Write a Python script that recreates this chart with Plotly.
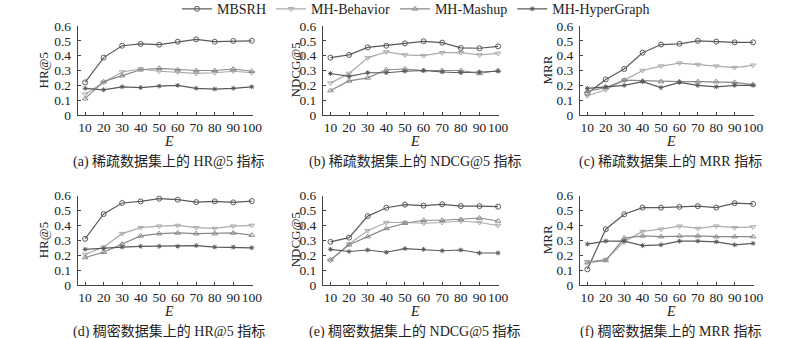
import plotly.graph_objects as go

E = [10, 20, 30, 40, 50, 60, 70, 80, 90, 100]
series_names = ["MBSRH", "MH-Behavior", "MH-Mashup", "MH-HyperGraph"]

# (a) sparse HR@5
a_mbsrh = [0.22, 0.387, 0.467, 0.479, 0.474, 0.494, 0.51, 0.494, 0.499, 0.50]
a_beh = [0.14, 0.22, 0.29, 0.31, 0.295, 0.29, 0.28, 0.285, 0.295, 0.285]
a_mash = [0.11, 0.225, 0.265, 0.305, 0.315, 0.305, 0.30, 0.30, 0.31, 0.295]
a_hyp = [0.18, 0.17, 0.19, 0.185, 0.195, 0.20, 0.18, 0.175, 0.18, 0.19]
# (b) sparse NDCG@5
b_mbsrh = [0.387, 0.405, 0.456, 0.467, 0.483, 0.497, 0.488, 0.452, 0.45, 0.463]
b_beh = [0.215, 0.28, 0.385, 0.425, 0.405, 0.40, 0.42, 0.42, 0.405, 0.415]
b_mash = [0.165, 0.23, 0.25, 0.305, 0.31, 0.30, 0.30, 0.30, 0.28, 0.30]
b_hyp = [0.28, 0.26, 0.285, 0.285, 0.295, 0.30, 0.29, 0.285, 0.29, 0.295]
# (c) sparse MRR
c_mbsrh = [0.145, 0.24, 0.31, 0.42, 0.475, 0.48, 0.50, 0.495, 0.49, 0.49]
c_beh = [0.13, 0.17, 0.235, 0.30, 0.33, 0.35, 0.34, 0.33, 0.32, 0.335]
c_mash = [0.16, 0.185, 0.235, 0.23, 0.225, 0.225, 0.225, 0.225, 0.22, 0.205]
c_hyp = [0.18, 0.19, 0.20, 0.225, 0.185, 0.22, 0.20, 0.19, 0.20, 0.20]
# (d) dense HR@5
d_mbsrh = [0.31, 0.477, 0.551, 0.562, 0.58, 0.573, 0.557, 0.562, 0.555, 0.564]
d_beh = [0.205, 0.255, 0.345, 0.385, 0.395, 0.40, 0.385, 0.38, 0.395, 0.40]
d_mash = [0.185, 0.22, 0.275, 0.33, 0.345, 0.35, 0.345, 0.345, 0.35, 0.335]
d_hyp = [0.24, 0.245, 0.255, 0.26, 0.26, 0.26, 0.265, 0.255, 0.255, 0.25]
# (e) dense NDCG@5
e_mbsrh = [0.29, 0.318, 0.463, 0.519, 0.54, 0.533, 0.542, 0.53, 0.53, 0.526]
e_beh = [0.165, 0.275, 0.365, 0.42, 0.42, 0.415, 0.42, 0.43, 0.42, 0.40]
e_mash = [0.17, 0.27, 0.325, 0.38, 0.415, 0.435, 0.435, 0.44, 0.45, 0.43]
e_hyp = [0.24, 0.225, 0.235, 0.22, 0.245, 0.24, 0.23, 0.235, 0.215, 0.215]
# (f) dense MRR
f_mbsrh = [0.105, 0.375, 0.475, 0.52, 0.52, 0.525, 0.53, 0.52, 0.55, 0.545]
f_beh = [0.155, 0.17, 0.29, 0.36, 0.375, 0.395, 0.38, 0.395, 0.385, 0.39]
f_mash = [0.15, 0.165, 0.315, 0.33, 0.325, 0.33, 0.33, 0.325, 0.325, 0.325]
f_hyp = [0.275, 0.295, 0.295, 0.265, 0.27, 0.295, 0.295, 0.29, 0.27, 0.28]

y_ticks = [0, 0.1, 0.2, 0.3, 0.4, 0.5, 0.6]
y_tick_text = ["0", "0.1", "0.2", "0.3", "0.4", "0.5", "0.6"]

panels = [
    ("HR@5", "(a) 稀疏数据集上的 HR@5 指标", [a_mbsrh, a_beh, a_mash, a_hyp]),
    ("NDCG@5", "(b) 稀疏数据集上的 NDCG@5 指标", [b_mbsrh, b_beh, b_mash, b_hyp]),
    ("MRR", "(c) 稀疏数据集上的 MRR 指标", [c_mbsrh, c_beh, c_mash, c_hyp]),
    ("HR@5", "(d) 稠密数据集上的 HR@5 指标", [d_mbsrh, d_beh, d_mash, d_hyp]),
    ("NDCG@5", "(e) 稠密数据集上的 NDCG@5 指标", [e_mbsrh, e_beh, e_mash, e_hyp]),
    ("MRR", "(f) 稠密数据集上的 MRR 指标", [f_mbsrh, f_beh, f_mash, f_hyp]),
]

W, H = 800, 338
col_px = [(77.7, 252.7), (323, 499), (580, 754)]
row_px = [(26, 115), (195.7, 285)]
ylab_x = [43, 295, 547]

colors = ["#5a5a5a", "#ababab", "#8a8a8a", "#5a5a5a"]
symbols = ["circle-open", "triangle-down-open", "triangle-up-open", "asterisk-open"]
msizes = [5, 5, 5, 4]

FONT = "Liberation Serif, Times New Roman, Noto Sans CJK SC"
fig = go.Figure()
annotations = []
layout = {}
for i, (ylab, sub, data) in enumerate(panels):
    r, c = divmod(i, 3)
    n = "" if i == 0 else str(i + 1)
    x0, x1 = col_px[c]
    y0, y1 = row_px[r]
    for k in range(4):
        fig.add_trace(go.Scatter(
            x=E, y=data[k], mode="lines+markers", name=series_names[k],
            legendgroup=series_names[k], showlegend=(i == 0),
            line=dict(color=colors[k], width=1.2),
            marker=dict(symbol=symbols[k], size=msizes[k], color=colors[k],
                        line=dict(color=colors[k], width=1)),
            cliponaxis=False,
            xaxis="x" + n, yaxis="y" + n,
        ))
    layout["xaxis" + n] = dict(
        domain=[x0 / W, x1 / W], range=[6, 100.5], anchor="y" + n,
        tickvals=E, ticks="inside", ticklen=3, tickcolor="#444", tickangle=0,
        showline=True, linecolor="#444", linewidth=1, showgrid=False, zeroline=False,
        tickfont=dict(size=13.5, color="#222", family=FONT),
    )
    layout["yaxis" + n] = dict(
        domain=[1 - y1 / H, 1 - y0 / H], range=[0, 0.6], anchor="x" + n,
        tickvals=y_ticks, ticktext=y_tick_text, ticks="inside", ticklen=3, tickcolor="#444",
        showline=True, linecolor="#444", linewidth=1, showgrid=False, zeroline=False,
        ticklabelstandoff=3,
        tickfont=dict(size=13.5, color="#222", family=FONT),
    )
    annotations.append(dict(
        text=ylab, textangle=-90, x=ylab_x[c] / W, y=1 - (y0 + y1) / 2 / H,
        xref="paper", yref="paper", showarrow=False, xanchor="center", yanchor="middle",
        font=dict(size=13, color="#222", family=FONT)))
    xc = (x0 + 7.3 + x1) / 2
    annotations.append(dict(
        text="<i>E</i>", x=xc / W, y=1 - (y1 + 26) / H,
        xref="paper", yref="paper", showarrow=False, xanchor="center", yanchor="middle",
        font=dict(size=14, color="#222", family=FONT)))
    annotations.append(dict(
        text=sub, x=xc / W, y=1 - (y1 + 46) / H,
        xref="paper", yref="paper", showarrow=False, xanchor="center", yanchor="middle",
        font=dict(size=14, color="#222", family=FONT)))

fig.update_layout(
    width=W, height=H, margin=dict(l=0, r=0, t=0, b=0, autoexpand=False),
    paper_bgcolor="white", plot_bgcolor="white",
    font=dict(family=FONT, size=13, color="#222"),
    showlegend=True,
    legend=dict(orientation="h", x=0.52, xanchor="center", y=1.02, yanchor="top",
                font=dict(size=14, color="#222", family=FONT),
                bgcolor="rgba(0,0,0,0)", itemwidth=30, tracegroupgap=0),
    annotations=annotations,
    **layout,
)
fig.write_html("out.html")
